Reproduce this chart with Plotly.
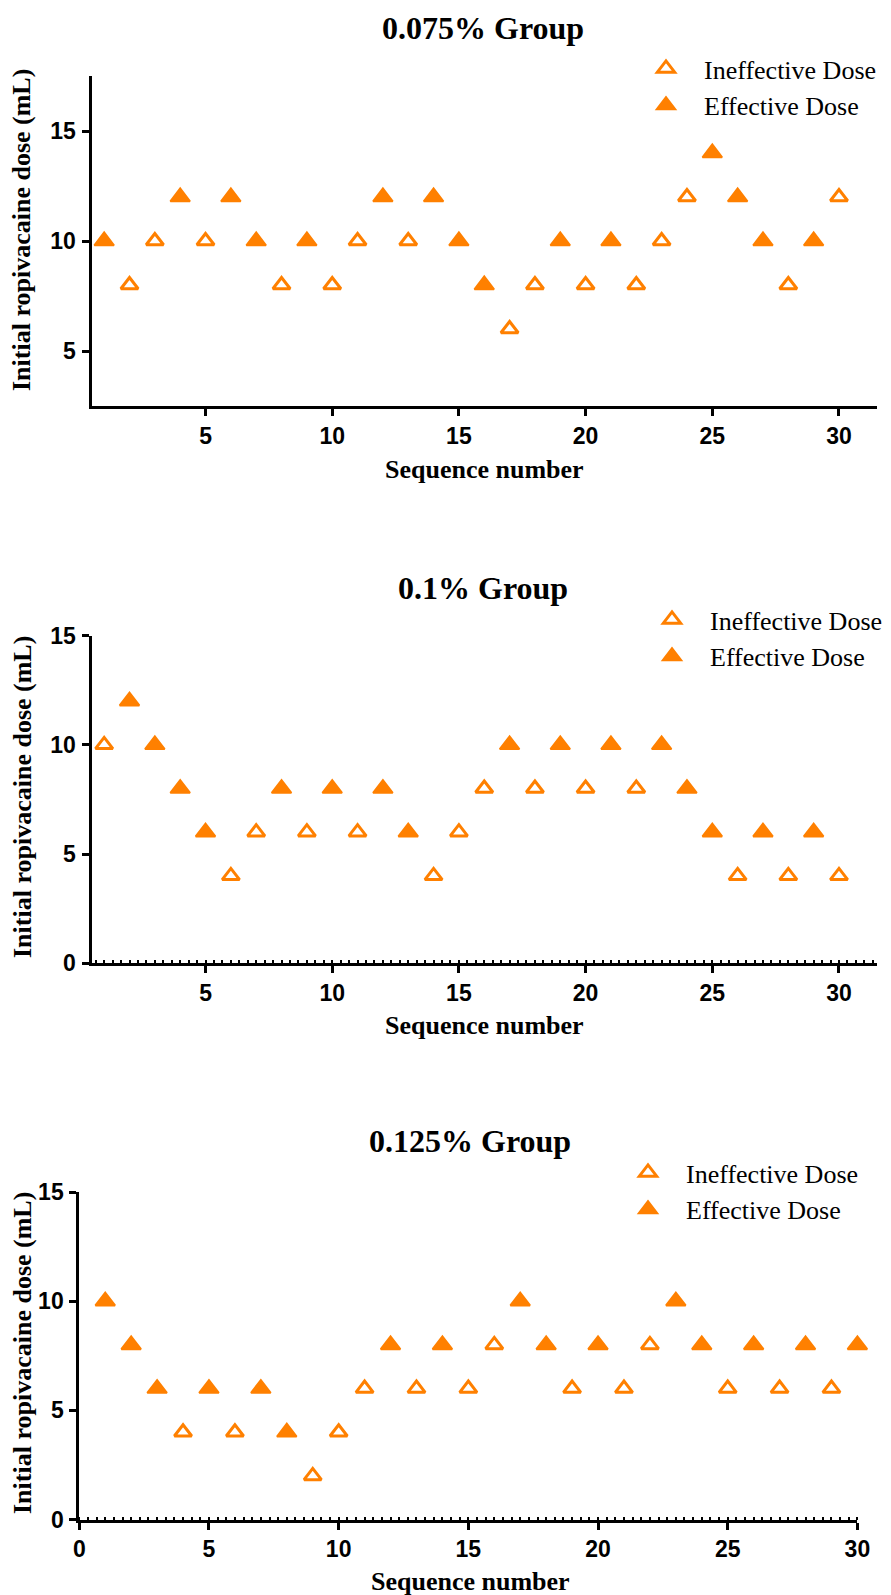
import plotly.graph_objects as go

W, H = 891, 1595

seq = list(range(1, 31))

# 0.075% group: dose and outcome (1 = effective, 0 = ineffective)
dose_075 = [10, 8, 10, 12, 10, 12, 10, 8, 10, 8, 10, 12, 10, 12, 10,
            8, 6, 8, 10, 8, 10, 8, 10, 12, 14, 12, 10, 8, 10, 12]
eff_075 = [1, 0, 0, 1, 0, 1, 1, 0, 1, 0, 0, 1, 0, 1, 1,
           1, 0, 0, 1, 0, 1, 0, 0, 0, 1, 1, 1, 0, 1, 0]

# 0.1% group
dose_01 = [10, 12, 10, 8, 6, 4, 6, 8, 6, 8, 6, 8, 6, 4, 6,
           8, 10, 8, 10, 8, 10, 8, 10, 8, 6, 4, 6, 4, 6, 4]
eff_01 = [0, 1, 1, 1, 1, 0, 0, 1, 0, 1, 0, 1, 1, 0, 0,
          0, 1, 0, 1, 0, 1, 0, 1, 1, 1, 0, 1, 0, 1, 0]

# 0.125% group
dose_0125 = [10, 8, 6, 4, 6, 4, 6, 4, 2, 4, 6, 8, 6, 8, 6,
             8, 10, 8, 6, 8, 6, 8, 10, 8, 6, 8, 6, 8, 6, 8]
eff_0125 = [1, 1, 1, 0, 1, 0, 1, 1, 0, 0, 0, 1, 0, 1, 0,
            0, 1, 1, 0, 1, 0, 0, 1, 1, 0, 1, 0, 1, 0, 1]

titles = ["0.075% Group", "0.1% Group", "0.125% Group"]
series_names = ["Ineffective Dose", "Effective Dose"]
x_title = "Sequence number"
y_title = "Initial ropivacaine dose (mL)"

ORANGE = "#FF8000"
SERIF = "Liberation Serif, Times New Roman, serif"
TICKFONT = "Liberation Sans Narrow, Arial Narrow, Liberation Sans, Arial, sans-serif"


def px(x):
    return x / W


def py(y):
    return 1 - y / H


# panel geometry in page pixels
panels = [
    dict(x0=91.5, x1=877, y0=76, y1=406, xr=[0.5, 31.5], yr=[2.5, 17.5],
         xt=[5, 10, 15, 20, 25, 30], yt=[5, 10, 15], minor=False,
         title_xy=(483, 28), leg_xy=(628, 45), ytitle_y=230, xtitle_y=469, xtitle_x=484),
    dict(x0=91.5, x1=877, y0=635.7, y1=963.2, xr=[0.5, 31.5], yr=[0, 15],
         xt=[5, 10, 15, 20, 25, 30], yt=[0, 5, 10, 15], minor=True,
         title_xy=(483, 588), leg_xy=(634, 596), ytitle_y=797, xtitle_y=1025, xtitle_x=484),
    dict(x0=79.3, x1=857.4, y0=1192, y1=1519.6, xr=[0, 30], yr=[0, 15],
         xt=[0, 5, 10, 15, 20, 25, 30], yt=[0, 5, 10, 15], minor=True,
         title_xy=(470, 1141), leg_xy=(610, 1149), ytitle_y=1353, xtitle_y=1581, xtitle_x=470),
]

data = [(dose_075, eff_075), (dose_01, eff_01), (dose_0125, eff_0125)]

fig = go.Figure()
annotations = []
layout = {}

for i, (p, (dose, eff)) in enumerate(zip(panels, data)):
    n = "" if i == 0 else str(i + 1)
    xa, ya = "x" + n, "y" + n
    leg = "legend" + n
    ix = [s for s, e in zip(seq, eff) if e == 0]
    iy = [d for d, e in zip(dose, eff) if e == 0]
    ex = [s for s, e in zip(seq, eff) if e == 1]
    ey = [d for d, e in zip(dose, eff) if e == 1]
    fig.add_trace(go.Scatter(
        x=ix, y=iy, mode="markers", name=series_names[0],
        xaxis=xa, yaxis=ya, legend=leg, legendgroup=f"a{i}", cliponaxis=False,
        marker=dict(symbol="triangle-up-open", size=15, color=ORANGE,
                    line=dict(width=3, color=ORANGE))))
    fig.add_trace(go.Scatter(
        x=ex, y=ey, mode="markers", name=series_names[1],
        xaxis=xa, yaxis=ya, legend=leg, legendgroup=f"b{i}", cliponaxis=False,
        marker=dict(symbol="triangle-up", size=17, color=ORANGE,
                    line=dict(width=2, color=ORANGE))))

    xkey = "xaxis" + n
    ykey = "yaxis" + n
    xaxis = dict(
        domain=[px(p["x0"]), px(p["x1"])], range=p["xr"], anchor=ya,
        automargin=False,
        showgrid=False, zeroline=False, showline=True, linecolor="black",
        linewidth=3, ticks="outside", ticklen=7, tickwidth=3, tickcolor="black",
        tickvals=p["xt"], ticklabelstandoff=0,
        tickfont=dict(family=TICKFONT, size=23, color="black", weight="bold"),
    )
    if p["minor"]:
        xaxis["minor"] = dict(ticks="inside", ticklen=3, tickwidth=1.5,
                              tickcolor="black", dtick=1 / 3, tick0=0, showgrid=False)
    yaxis = dict(
        domain=[py(p["y1"]), py(p["y0"])], range=p["yr"], anchor=xa,
        automargin=False,
        showgrid=False, zeroline=False, showline=True, linecolor="black",
        linewidth=3, ticks="outside", ticklen=7, tickwidth=3, tickcolor="black",
        tickvals=p["yt"], ticklabelstandoff=1,
        tickfont=dict(family=TICKFONT, size=23, color="black", weight="bold"),
    )
    layout[xkey] = xaxis
    layout[ykey] = yaxis
    layout[leg] = dict(
        x=px(p["leg_xy"][0]), y=py(p["leg_xy"][1]), xanchor="left", yanchor="top",
        bgcolor="rgba(0,0,0,0)", itemwidth=66, tracegroupgap=0,
        font=dict(family=SERIF, size=26, color="black"),
    )
    annotations.append(dict(
        text=titles[i], x=px(p["title_xy"][0]), y=py(p["title_xy"][1]),
        xref="paper", yref="paper", xanchor="center", yanchor="middle",
        showarrow=False, font=dict(family=SERIF, size=32, color="black", weight="bold")))
    annotations.append(dict(
        text=x_title, x=px(p["xtitle_x"]), y=py(p["xtitle_y"]),
        xref="paper", yref="paper", xanchor="center", yanchor="middle",
        showarrow=False, font=dict(family=SERIF, size=26, color="black", weight="bold")))
    annotations.append(dict(
        text=y_title, x=px(22), y=py(p["ytitle_y"]), textangle=-90,
        xref="paper", yref="paper", xanchor="center", yanchor="middle",
        showarrow=False, font=dict(family=SERIF, size=26, color="black", weight="bold")))

fig.update_layout(
    width=W, height=H, margin=dict(l=0, r=0, t=0, b=0, autoexpand=False),
    paper_bgcolor="white", plot_bgcolor="white",
    annotations=annotations, **layout,
)

fig.write_html(
    "out.html",
    config={"displayModeBar": False},
    post_script=(
        "document.body.style.margin='0';"
        "document.body.style.overflow='hidden';"
        "document.documentElement.style.overflow='hidden';"
    ),
)
